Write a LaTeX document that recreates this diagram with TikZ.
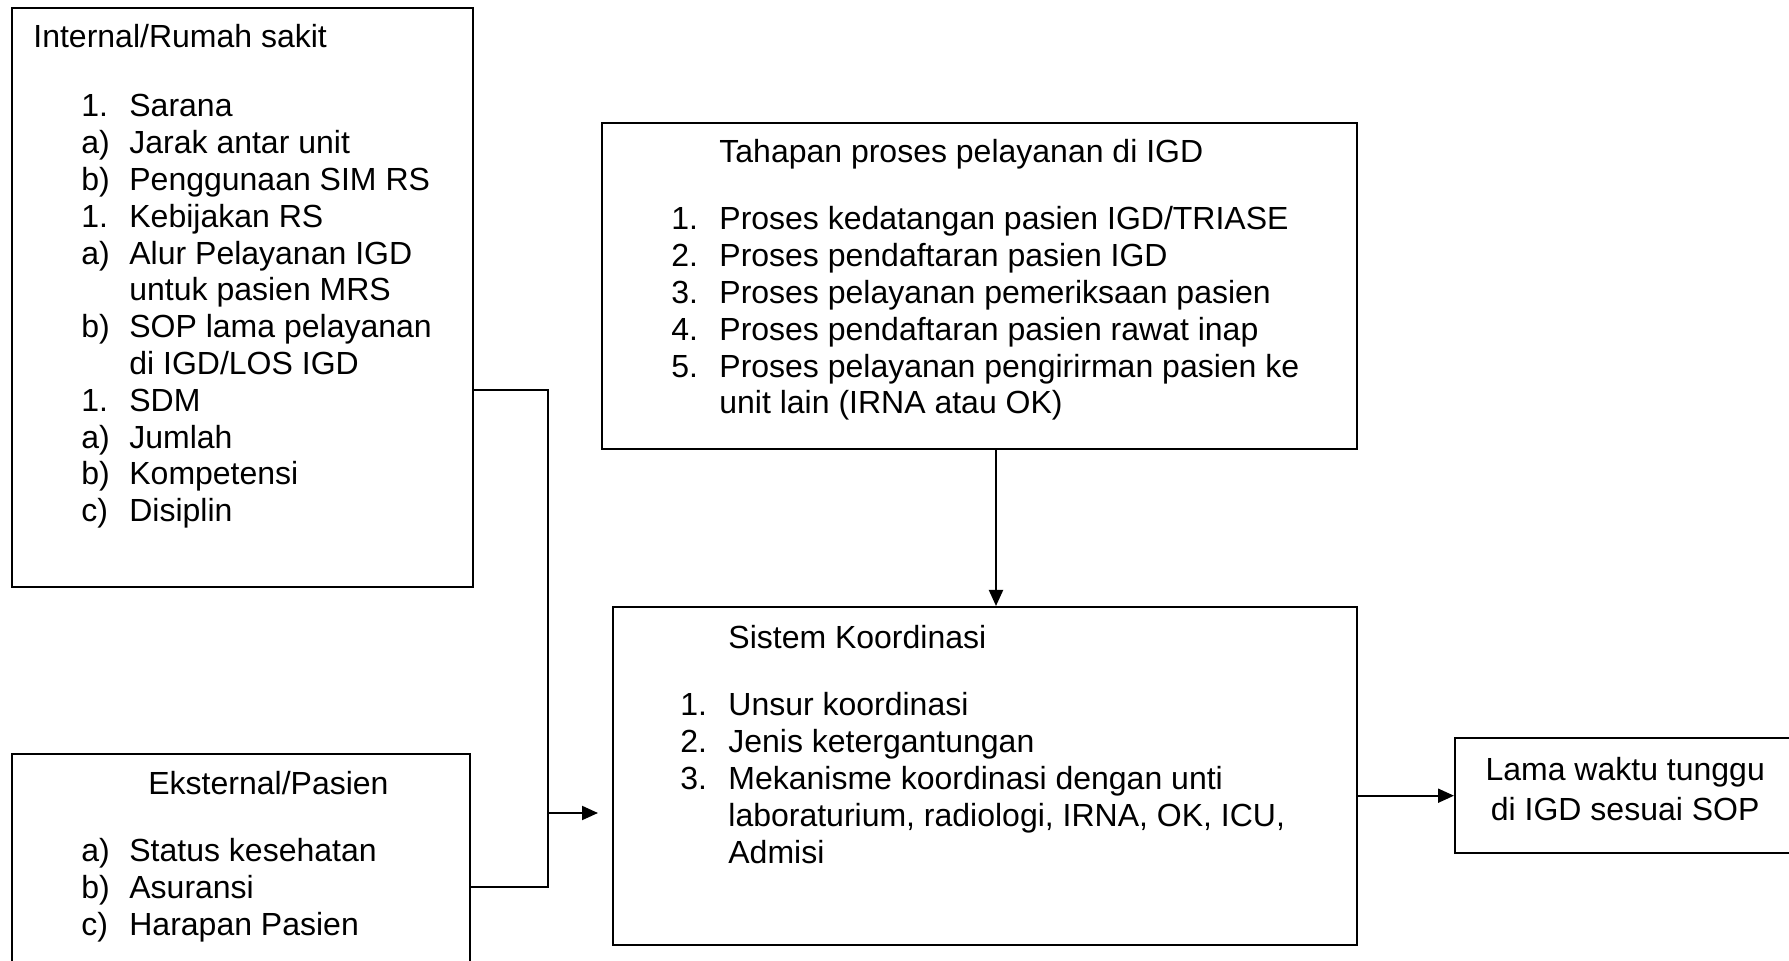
\documentclass[tikz,border=0pt]{standalone}
\usepackage{fontspec}
\setmainfont{Liberation Sans}
\usetikzlibrary{arrows.meta}
\tikzset{
	kotak/.style={draw, line width=1.2pt, inner sep=0pt, anchor=north west},
	teks/.style={inner sep=0pt, anchor=base west, font=\fontsize{16}{18.4}\selectfont},
	garis/.style={line width=1pt},
	panah/.style={line width=1pt, -{Triangle[length=8pt,width=7pt]}}
}

\begin{document}
\begin{tikzpicture}[x=0.5pt, y=-0.5pt]
			%%%%% START %%%%%
			
			\clip (0, 0) rectangle (1789, 961);
			
			% kotak
			\node[kotak, minimum width=230.5pt, minimum height=289.5pt] (intern) at (11, 7) {};
			\node[kotak, minimum width=229pt, minimum height=118.5pt] (ekst) at (11, 753) {};
			\node[kotak, minimum width=377.5pt, minimum height=163pt] (tahap) at (601, 122) {};
			\node[kotak, minimum width=372pt, minimum height=169pt] (sistem) at (612, 606) {};
			\node[kotak, minimum width=170pt, minimum height=57.5pt] (lama) at (1454, 737) {};
			
			% isi kotak
			\node[teks] (intern-judul) at (33, 48) {Internal/Rumah sakit};
			\node[teks] (intern-isi) at (81, 117) {\begin{tabular}[t]{@{}p{24pt}@{}l@{}}
				1. & Sarana\\
				a) & Jarak antar unit\\
				b) & Penggunaan SIM RS\\
				1. & Kebijakan RS\\
				a) & Alur Pelayanan IGD\\
				   & untuk pasien MRS\\
				b) & SOP lama pelayanan\\
				   & di IGD/LOS IGD\\
				1. & SDM\\
				a) & Jumlah\\
				b) & Kompetensi\\
				c) & Disiplin
			\end{tabular}};
			
			\node[teks] (ekst-judul) at (148, 795) {Eksternal/Pasien};
			\node[teks] (ekst-isi) at (81, 862) {\begin{tabular}[t]{@{}p{24pt}@{}l@{}}
				a) & Status kesehatan\\
				b) & Asuransi\\
				c) & Harapan Pasien
			\end{tabular}};
			
			\node[teks] (tahap-judul) at (719, 163) {Tahapan proses pelayanan di IGD};
			\node[teks] (tahap-isi) at (671, 230) {\begin{tabular}[t]{@{}p{24pt}@{}l@{}}
				1. & Proses kedatangan pasien IGD/TRIASE\\
				2. & Proses pendaftaran pasien IGD\\
				3. & Proses pelayanan pemeriksaan pasien\\
				4. & Proses pendaftaran pasien rawat inap\\
				5. & Proses pelayanan pengirirman pasien ke\\
				   & unit lain (IRNA atau OK)
			\end{tabular}};
			
			\node[teks] (sistem-judul) at (728, 649) {Sistem Koordinasi};
			\node[teks] (sistem-isi) at (680, 716) {\begin{tabular}[t]{@{}p{24pt}@{}l@{}}
				1. & Unsur koordinasi\\
				2. & Jenis ketergantungan\\
				3. & Mekanisme koordinasi dengan unti\\
				   & laboraturium, radiologi, IRNA, OK, ICU,\\
				   & Admisi
			\end{tabular}};
			
			\node[align=center, inner sep=0pt, font=\fontsize{16}{20}\selectfont, yshift=3.5pt]
				(lama-teks) at (lama.center) {Lama waktu tunggu\\di IGD sesuai SOP};
			
			% garis dan panah
			\coordinate (jatas) at (548, 390);
			\coordinate (jbawah) at (548, 887);
			\coordinate (jtengah) at (548, 813);
			\coordinate (vx) at (996, 0);
			
			\draw[garis] (jatas -| intern.east) -- (jatas) -- (jbawah) -- (jbawah -| ekst.east);
			\draw[panah, shorten >=7pt] (jtengah) -- (jtengah -| sistem.west);
			\draw[panah] (vx |- tahap.south) -- (vx |- sistem.north);
			\draw[panah] (lama.west -| sistem.east) -- (lama.west);
			
			%%%%% END %%%%%
\end{tikzpicture}
\end{document}
